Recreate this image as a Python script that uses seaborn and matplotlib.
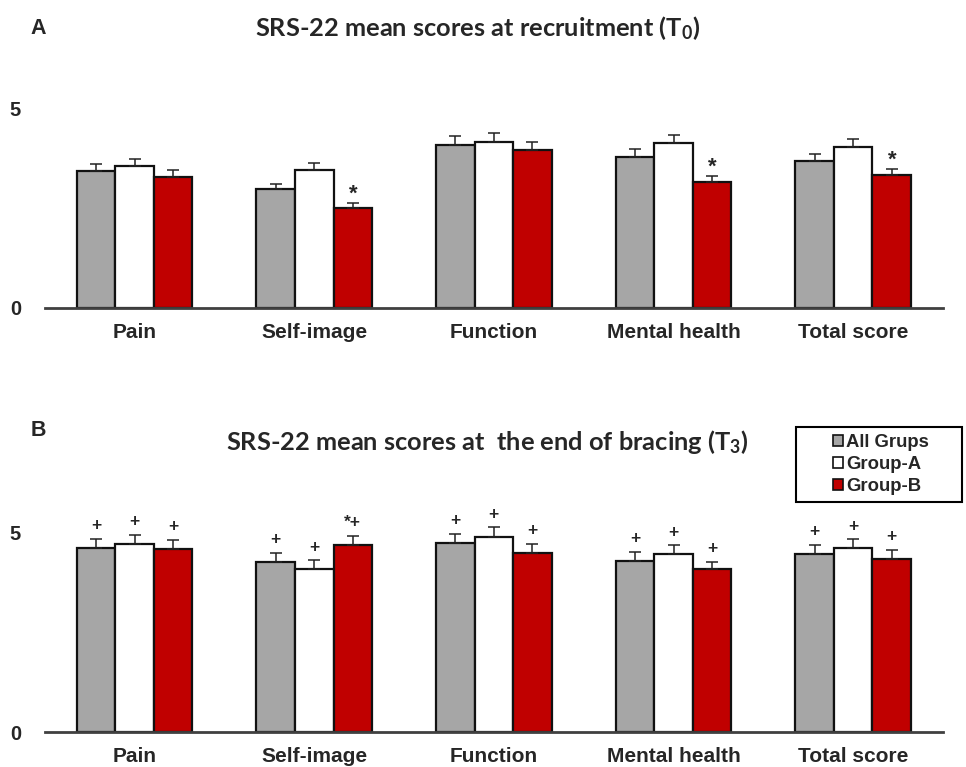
import seaborn as sns
import pandas as pd
import matplotlib.pyplot as plt
from matplotlib.patches import Patch, Rectangle

# SRS-22 domains and groups
domains = ["Pain", "Self-image", "Function", "Mental health", "Total score"]
groups = ["All Grups", "Group-A", "Group-B"]
colors = ["#A6A6A6", "#FFFFFF", "#C00000"]

# T0 (recruitment) means and upper error
t0_all = [3.43, 2.97, 4.07, 3.78, 3.68]
t0_a = [3.55, 3.45, 4.16, 4.13, 4.03]
t0_b = [3.28, 2.51, 3.95, 3.15, 3.32]
t0_all_err = [0.18, 0.14, 0.22, 0.19, 0.18]
t0_a_err = [0.18, 0.18, 0.22, 0.20, 0.20]
t0_b_err = [0.17, 0.12, 0.20, 0.15, 0.16]
t0_all_marks = ["", "", "", "", ""]
t0_a_marks = ["", "", "", "", ""]
t0_b_marks = ["", "*", "", "*", "*"]

# T3 (end of bracing) means and upper error
t3_all = [4.59, 4.26, 4.73, 4.28, 4.46]
t3_a = [4.70, 4.08, 4.88, 4.44, 4.59]
t3_b = [4.57, 4.68, 4.48, 4.07, 4.33]
t3_all_err = [0.24, 0.22, 0.23, 0.22, 0.22]
t3_a_err = [0.23, 0.21, 0.24, 0.23, 0.23]
t3_b_err = [0.23, 0.23, 0.23, 0.19, 0.22]
t3_all_marks = ["+", "+", "+", "+", "+"]
t3_a_marks = ["+", "+", "+", "+", "+"]
t3_b_marks = ["+", "*+", "+", "+", "+"]

sns.set_style("white")
plt.rcParams["font.family"] = ["Liberation Sans", "DejaVu Sans"]
plt.rcParams["font.weight"] = "bold"
plt.rcParams["mathtext.fontset"] = "custom"
plt.rcParams["mathtext.rm"] = "Lato:bold"
plt.rcParams["mathtext.it"] = "Lato:bold"
plt.rcParams["mathtext.bf"] = "Lato:bold"

W, H = 966, 767
fig = plt.figure(figsize=(W / 100, H / 100), dpi=100)


def draw_panel(ax, means, errs, marks):
    df = pd.DataFrame({
        "domain": domains * 3,
        "group": [g for g in groups for _ in domains],
        "score": [v for m in means for v in m],
    })
    sns.barplot(data=df, x="domain", y="score", hue="group", order=domains,
                hue_order=groups, palette=dict(zip(groups, colors)), saturation=1,
                edgecolor="#111111", linewidth=1.6, width=0.645, gap=0,
                errorbar=None, legend=False, ax=ax)
    for cont, err, mk in zip(ax.containers, errs, marks):
        xs = [p.get_x() + p.get_width() / 2 for p in cont]
        hs = [p.get_height() for p in cont]
        ax.errorbar(xs, hs, yerr=[[0] * len(err), err], fmt="none", ecolor="#222222",
                    elinewidth=1.1, capsize=4.5, capthick=1.1, clip_on=False)
        for x, h, e, m in zip(xs, hs, err, mk):
            if m == "*":
                ax.text(x, h + e + 0.22, m, ha="center", va="center",
                        fontsize=16, fontweight="bold")
            elif m:
                ax.text(x, h + e + 0.33, m, ha="center", va="center",
                        fontsize=12.5, fontweight="bold")
    ax.set_ylim(0, 5.6)
    ax.set_xlim(-0.5, len(domains) - 0.5)
    ax.set_yticks([0, 5])
    ax.set_xlabel("")
    ax.set_ylabel("")
    sns.despine(ax=ax, left=True)
    ax.spines["bottom"].set_color("#404040")
    ax.spines["bottom"].set_linewidth(2)
    ax.tick_params(axis="y", length=0, pad=17, labelsize=14.5)
    ax.tick_params(axis="x", length=0, pad=11, labelsize=15)
    for lab in ax.get_xticklabels() + ax.get_yticklabels():
        lab.set_fontweight("bold")


left = 44.7 / W
width = 898.3 / W
height = 224 / H
ax_a = fig.add_axes([left, 1 - 308 / H, width, height])
ax_b = fig.add_axes([left, 1 - 732 / H, width, height])

draw_panel(ax_a, [t0_all, t0_a, t0_b], [t0_all_err, t0_a_err, t0_b_err],
           [t0_all_marks, t0_a_marks, t0_b_marks])
draw_panel(ax_b, [t3_all, t3_a, t3_b], [t3_all_err, t3_a_err, t3_b_err],
           [t3_all_marks, t3_a_marks, t3_b_marks])

# panel letters and titles
fig.text(38 / W, 1 - 29 / H, "A", fontsize=15.5, fontweight="bold", ha="center", va="center")
fig.text(38 / W, 1 - 430 / H, "B", fontsize=15.5, fontweight="bold", ha="center", va="center")
fig.text(478 / W, 1 - 28 / H, "SRS-22 mean scores at recruitment (T$_0$)",
         family="Lato", fontweight="bold", fontsize=18.3, ha="center", va="center")
fig.text(487 / W, 1 - 442 / H, "SRS-22 mean scores at  the end of bracing (T$_3$)",
         family="Lato", fontweight="bold", fontsize=18.3, ha="center", va="center")

# legend: entries centred inside a fixed box
handles = [Patch(facecolor=c, edgecolor="#111111", linewidth=1.2) for c in colors]
leg = fig.legend(handles, groups, loc="center", bbox_to_anchor=(881 / W, 1 - 464.5 / H),
                 fontsize=13.3, handlelength=0.55, handleheight=0.55,
                 handletextpad=0.15, labelspacing=0.25, borderpad=0, frameon=False)
for t in leg.get_texts():
    t.set_fontweight("bold")
fig.patches.append(Rectangle((796 / W, 1 - 502 / H), 166 / W, 75 / H,
                             transform=fig.transFigure, fill=False,
                             edgecolor="black", linewidth=1.5))

fig.savefig("out.png", dpi=100)
